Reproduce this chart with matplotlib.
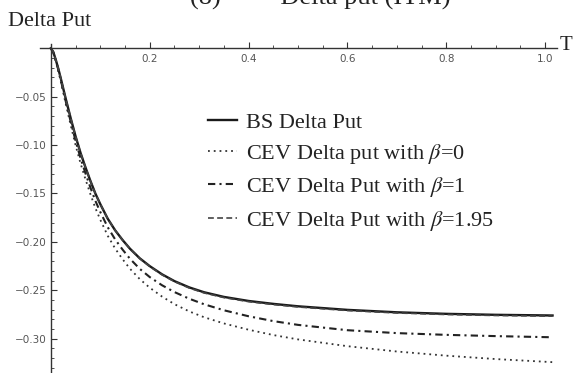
import matplotlib
matplotlib.use("Agg")
import matplotlib.pyplot as plt
from matplotlib.ticker import MultipleLocator, FixedLocator

plt.rcParams["mathtext.fontset"] = "stix"

# values
T = [0, 0.005, 0.01, 0.015, 0.02, 0.03, 0.04, 0.05, 0.06, 0.07, 0.08, 0.09,
     0.10, 0.115, 0.13, 0.145, 0.16, 0.18, 0.20, 0.225, 0.25, 0.28, 0.31,
     0.35, 0.40, 0.45, 0.50, 0.60, 0.70, 0.80, 0.90, 1.015]

bs_put = [0, -0.004, -0.012, -0.021, -0.031, -0.052, -0.072, -0.091, -0.108,
          -0.123, -0.137, -0.150, -0.161, -0.176, -0.188, -0.198, -0.207,
          -0.217, -0.225, -0.2335, -0.2405, -0.247, -0.252, -0.2568, -0.261,
          -0.264, -0.2665, -0.2702, -0.2727, -0.2743, -0.2753, -0.276]

cev_beta0 = [0, -0.0044, -0.0132, -0.0231, -0.0341, -0.0572, -0.0792, -0.1001,
             -0.1188, -0.1353, -0.1507, -0.165, -0.1771, -0.1936, -0.2068,
             -0.2178, -0.2277, -0.2385, -0.2473, -0.2565, -0.2643, -0.2718,
             -0.2778, -0.2842, -0.2907, -0.2962, -0.3007, -0.3077, -0.3132,
             -0.3175, -0.321, -0.3242]

cev_beta1 = [0, -0.0042, -0.0126, -0.0221, -0.0326, -0.0546, -0.0756, -0.0956,
             -0.1134, -0.1292, -0.1439, -0.1575, -0.1691, -0.1848, -0.1974,
             -0.2079, -0.2174, -0.2279, -0.2363, -0.2448, -0.2518, -0.2587,
             -0.2644, -0.2706, -0.2768, -0.2818, -0.2857, -0.2912, -0.2942,
             -0.296, -0.2973, -0.2985]

cev_beta195 = [0, -0.004, -0.012, -0.021, -0.031, -0.052, -0.072, -0.091,
               -0.108, -0.123, -0.137, -0.150, -0.161, -0.176, -0.188, -0.198,
               -0.2072, -0.2173, -0.2254, -0.234, -0.241, -0.2476, -0.2527,
               -0.2575, -0.2617, -0.2647, -0.2672, -0.2709, -0.2734, -0.275,
               -0.276, -0.2767]

labels = ["BS Delta Put",
          r"CEV Delta put with $\beta$=0",
          r"CEV Delta Put with $\beta$=1",
          r"CEV Delta Put with $\beta$=1.95"]

x_ticks = [0.2, 0.4, 0.6, 0.8, 1.0]
y_ticks = [-0.05, -0.10, -0.15, -0.20, -0.25, -0.30]

W, H = 587, 373
fig = plt.figure(figsize=(W / 100, H / 100), dpi=100)
ax = fig.add_axes([40 / W, 0, 517 / W, 1 - 44.4 / H])

ax.plot(T, bs_put, color="#1a1a1a", lw=1.7, label=labels[0])
ax.plot(T, cev_beta0, color="#333333", lw=1.3, ls=(0, (1, 2.2)), label=labels[1])
ax.plot(T, cev_beta1, color="#222222", lw=1.5, ls=(0, (3.5, 2, 1, 2)), label=labels[2])
ax.plot(T, cev_beta195, color="#444444", lw=1.2, ls=(0, (3.5, 2)), label=labels[3])

ax.set_xlim(-0.022, 1.024)
ax.set_ylim(-0.3354, 0.004)

for s in ["top", "right"]:
    ax.spines[s].set_visible(False)
ax.spines["bottom"].set_position(("data", 0))
ax.spines["left"].set_position(("data", 0))
for s in ["bottom", "left"]:
    ax.spines[s].set_color("#333333")
    ax.spines[s].set_linewidth(1.0)

ax.xaxis.set_major_locator(FixedLocator(x_ticks))
ax.xaxis.set_minor_locator(MultipleLocator(0.05))
ax.yaxis.set_major_locator(FixedLocator(y_ticks))
ax.yaxis.set_minor_locator(MultipleLocator(0.01))
ax.xaxis.set_major_formatter(lambda v, p: f"{v:.1f}")
ax.yaxis.set_major_formatter(lambda v, p: f"{v:.2f}".replace("-", "\u2212"))

ax.tick_params(axis="both", which="both", direction="in", colors="#333333",
               labelcolor="#555555", labelsize=7.5)
ax.tick_params(axis="both", which="major", length=4, width=0.8)
ax.tick_params(axis="both", which="minor", length=2.3, width=0.6)
ax.tick_params(axis="x", which="major", pad=4)
ax.tick_params(axis="y", which="major", pad=3)

serif = "Liberation Serif"
fig.text(8 / W, 1 - 26 / H, "Delta Put", family=serif, fontsize=16,
         ha="left", va="baseline", color="#222222")
fig.text(560 / W, 1 - 50 / H, "T", family=serif, fontsize=15,
         ha="left", va="baseline", color="#222222")
fig.text(190 / W, 1 - 4.5 / H, "(8)         Delta put (ITM)", family=serif,
         fontsize=19, ha="left", va="baseline", color="#222222")

leg = ax.legend(loc="upper left", bbox_to_anchor=(208 / W, 1 - 112 / H),
                bbox_transform=fig.transFigure, frameon=False,
                prop={"family": serif, "size": 16}, handlelength=1.3,
                handletextpad=0.4, labelspacing=0.42, borderpad=0,
                borderaxespad=0)
for t in leg.get_texts():
    t.set_color("#222222")

fig.savefig("out.png", dpi=100)
